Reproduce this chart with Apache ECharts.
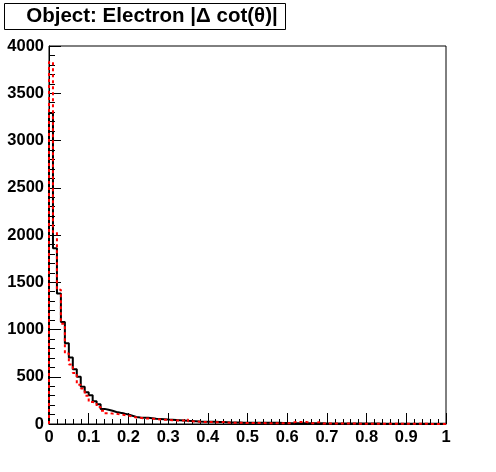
<!DOCTYPE html>
<html>
<head>
<meta charset="utf-8">
<script src="https://cdn.jsdelivr.net/npm/echarts@6/dist/echarts.min.js"></script>
<style>
html,body{margin:0;padding:0;background:#fff;}
#chart{width:496px;height:472px;}
</style>
</head>
<body>
<div id="chart"></div>
<script>
// Histogram: 100 bins of width 0.01 on [0,1]
var binWidth = 0.01;
var blackCounts = [
  3290,1860,1380,1080,855,705,580,500,395,335,
  305,240,210,160,150,140,127,118,110,100,
  88,75,70,66,65,62,55,53,50,47,
  46,42,40,38,35,33,30,27,25,25,
  24,23,22,20,18,16,15,15,14,14,
  14,13,13,13,12,12,12,12,11,11,
  9,9,8,8,8,8,7,7,7,6,
  6,6,5,5,5,5,5,4,4,4,
  4,4,4,3,3,3,3,3,3,3,
  3,2,2,2,2,2,2,2,2,2
];
var redCounts = [
  3830,2030,1420,1060,745,630,540,415,375,300,
  232,225,180,140,115,110,108,100,95,90,
  80,68,66,60,58,57,50,48,45,44,
  40,38,37,36,50,28,26,25,22,21,
  20,18,17,22,15,14,13,12,12,11,
  11,10,10,10,9,9,9,8,8,8,
  8,20,20,20,20,7,7,20,6,6,
  5,5,5,4,4,4,4,4,3,3,
  3,3,3,3,3,2,2,2,2,2,
  2,2,2,2,2,1,1,1,1,1
];
var xTicks = [0,0.1,0.2,0.3,0.4,0.5,0.6,0.7,0.8,0.9,1];
var yTicks = [0,500,1000,1500,2000,2500,3000,3500,4000];
var titleText = 'Object: Electron |\u0394 cot(\u03b8)|';

function toSteps(counts){
  var pts = [[0,0]];
  for (var i=0;i<counts.length;i++) pts.push([+(i*binWidth).toFixed(2), counts[i]]);
  pts.push([+(counts.length*binWidth).toFixed(2), counts[counts.length-1]]);
  return pts;
}

var chart = echarts.init(document.getElementById('chart'), null, {renderer:'canvas'});
var labelFont = {fontFamily:'Liberation Sans, Arial, sans-serif', fontWeight:'bold', fontSize:16.5, color:'#000'};
chart.setOption({
  animation:false,
  backgroundColor:'#fff',
  grid:{left:49, right:50, top:46, bottom:48, show:true, borderColor:'#000', borderWidth:1, backgroundColor:'transparent'},
  xAxis:{
    type:'value', min:xTicks[0], max:xTicks[xTicks.length-1], interval:0.1,
    axisLine:{show:true, onZero:false, lineStyle:{color:'#000', width:1}},
    axisTick:{show:true, inside:true, length:11, lineStyle:{color:'#000'}},
    minorTick:{show:true, splitNumber:5, length:5, lineStyle:{color:'#000'}},
    splitLine:{show:false},
    axisLabel:Object.assign({margin:5, showMinLabel:true, showMaxLabel:true,
      formatter:function(v){return String(+v.toFixed(1));}}, labelFont)
  },
  yAxis:{
    type:'value', min:yTicks[0], max:yTicks[yTicks.length-1], interval:500,
    axisLine:{show:true, onZero:false, lineStyle:{color:'#000', width:1}},
    axisTick:{show:true, inside:true, length:12, lineStyle:{color:'#000'}},
    minorTick:{show:true, splitNumber:5, length:6, lineStyle:{color:'#000'}},
    splitLine:{show:false},
    axisLabel:Object.assign({margin:5, padding:[6,0,0,0],
      formatter:function(v){return String(v);}}, labelFont)
  },
  series:[
    {type:'line', step:'end', data:toSteps(blackCounts), showSymbol:false, symbol:'none',
     lineStyle:{color:'#000', width:2}, z:2},
    {type:'line', step:'end', data:toSteps(redCounts), showSymbol:false, symbol:'none',
     lineStyle:{color:'#ff0000', width:2, type:[3,3]}, z:3}
  ],
  graphic:[
    {type:'rect', shape:{x:4.5, y:3.5, width:281, height:26}, style:{fill:'#fff', stroke:'#000', lineWidth:1}, z:10},
    {type:'text', x:152, y:16.5, style:{text:titleText, fill:'#000', font:'bold 20.5px "Liberation Sans", Arial, sans-serif', textAlign:'center', textVerticalAlign:'middle'}, z:11}
  ]
});
</script>
</body>
</html>
